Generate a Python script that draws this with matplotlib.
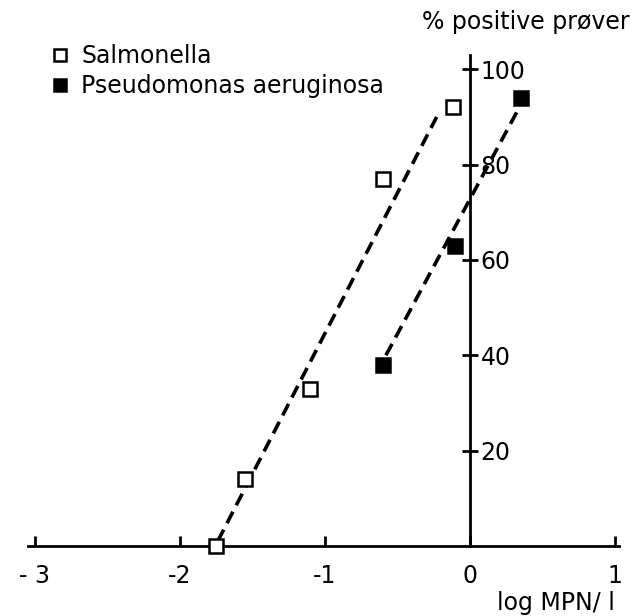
from matplotlib import pyplot as plt

# data
sal_x = [-1.75, -1.55, -1.1, -0.6, -0.12]
sal_y = [0, 14, 33, 77, 92]
pse_x = [-0.6, -0.1, 0.35]
pse_y = [38, 63, 94]

# dashed fit lines (end points)
sal_fit_x = [-1.74, -0.23]
sal_fit_y = [1, 90]
pse_fit_x = [-0.58, 0.34]
pse_fit_y = [40, 92]

xticks = [-3, -2, -1, 0, 1]
xlabels = ['- 3', '-2', '-1', '0', '1']
yticks = [20, 40, 60, 80, 100]

plt.rcParams['font.family'] = ['DejaVu Sans']
plt.rcParams['font.size'] = 17

fig = plt.figure(figsize=(6.37, 6.16), dpi=100)
ax = fig.add_axes([27.75 / 637, 70 / 616, 591.6 / 637, 491 / 616])
ax.set_xlim(-3.05, 1.03)
ax.set_ylim(0, 103)

ax.plot(sal_fit_x, sal_fit_y, color='black', lw=2.6, ls=(0, (3.6, 2.0)), dash_capstyle='butt')
ax.plot(pse_fit_x, pse_fit_y, color='black', lw=2.6, ls=(0, (3.6, 2.0)), dash_capstyle='butt')

ax.plot(sal_x, sal_y, ls='none', marker='s', ms=9.5, mfc='white', mec='black', mew=1.8,
        label='Salmonella', clip_on=False, zorder=5)
ax.plot(pse_x, pse_y, ls='none', marker='s', ms=9.5, mfc='black', mec='black', mew=1.8,
        label='Pseudomonas aeruginosa', clip_on=False, zorder=5)

# axes through the origin
ax.spines['top'].set_visible(False)
ax.spines['left'].set_visible(False)
ax.spines['right'].set_position(('data', 0))
ax.spines['bottom'].set_position(('data', 0))
ax.spines['right'].set_linewidth(2)
ax.spines['bottom'].set_linewidth(2)

ax.yaxis.set_ticks_position('right')
ax.set_yticks(yticks)
ax.set_yticklabels([str(v) for v in yticks])
ax.tick_params(axis='y', direction='inout', length=11, width=2, pad=2)

ax.set_xticks(xticks)
ax.set_xticklabels(xlabels)
ax.tick_params(axis='x', direction='in', length=7, width=2, pad=13)

fig.text(615 / 637, 1 - 603 / 616, 'log MPN/ l', ha='right', va='center', fontsize=17)
fig.text(630 / 637, 1 - 22 / 616, '% positive prøver', ha='right', va='center', fontsize=17)

ax.legend(loc='upper left', bbox_to_anchor=(41 / 637, 1 - 35 / 616), bbox_transform=fig.transFigure,
          frameon=False, handlelength=0.8, handletextpad=0.5, labelspacing=0.25,
          markerscale=0.85, borderaxespad=0)

plt.savefig('out.png', dpi=100)
